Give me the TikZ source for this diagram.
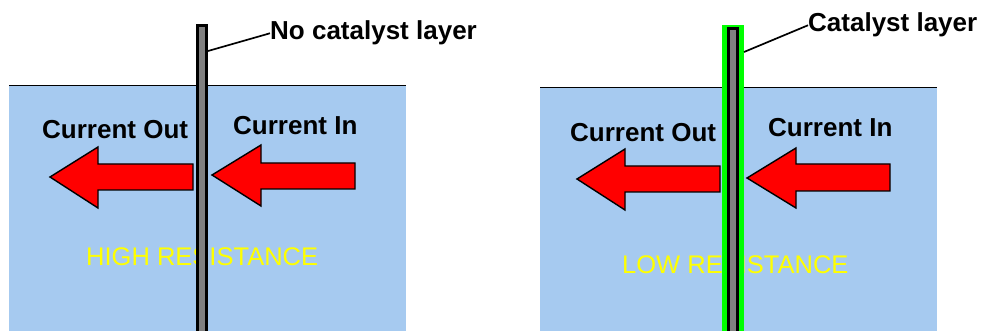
\documentclass[tikz,border=0pt]{standalone}
\usepackage{fontspec}
\setmainfont{Liberation Sans}
\definecolor{panelblue}{RGB}{166,202,240}
\definecolor{rodgray}{RGB}{128,128,128}
\definecolor{resyellow}{RGB}{255,255,0}
\definecolor{catgreen}{RGB}{0,255,0}
\begin{document}
\begin{tikzpicture}[x=1pt,y=-1pt,
  lbl/.style={font=\fontsize{26}{26}\selectfont\bfseries, inner sep=0pt, anchor=base west},
  res/.style={font=\fontsize{25.5}{26}\selectfont, text=resyellow, inner sep=0pt, anchor=base west},
  bigarrow/.style={fill=red, draw=black, line width=1.4pt, line join=miter},
  panel/.style={fill=panelblue, draw=none},
  rodbar/.style={fill=rodgray, draw=black, line width=2.6pt},
  leader/.style={draw=black, line width=1.7pt}]
\useasboundingbox (0,0) rectangle (982,331);
\fill[white] (0,0) rectangle (982,331);
% ---------- left panel ----------
\fill[panel] (9,86) rectangle (406,331);
\draw[line width=1pt] (9,86) -- (406,86);
\node[res] (hr) at (86,265) {HIGH RESISTANCE};
\node[lbl] (lout) at (42,139) {Current Out};
\node[lbl] (lin) at (233,135) {Current In};
\draw[bigarrow] (50,177) -- (98,147) -- (98,164) -- (193,164) -- (193,190) -- (98,190) -- (98,208) -- cycle;
\draw[bigarrow] (212,175) -- (261,145) -- (261,163) -- (355,163) -- (355,189) -- (261,189) -- (261,206) -- cycle;
\draw[rodbar] (197.3,25.5) rectangle (206.7,334);
\node[lbl] (nocat) at (270,40) {No catalyst layer};
\coordinate (lp1) at (208,51);
\draw[leader] (lp1) -- (nocat.west);
% ---------- right panel ----------
\fill[panel] (540,88) rectangle (937,331);
\draw[line width=1pt] (540,88) -- (937,88);
\node[res] (lr) at (622,273) {LOW RESISTANCE};
\node[lbl] (rout) at (570,142) {Current Out};
\node[lbl] (rin) at (768,137) {Current In};
\draw[bigarrow] (577,179) -- (625,149) -- (625,166) -- (720,166) -- (720,192) -- (625,192) -- (625,210) -- cycle;
\draw[bigarrow] (747,178) -- (796,148) -- (796,164) -- (890,164) -- (890,191) -- (796,191) -- (796,208) -- cycle;
\fill[catgreen] (722,25) rectangle (744,334);
\draw[rodbar] (728.3,28.3) rectangle (737.7,334);
\node[lbl] (cat) at (808,32) {Catalyst layer};
\coordinate (lp2) at (744,52);
\draw[leader] (lp2) -- (cat.west);
\end{tikzpicture}
\end{document}
